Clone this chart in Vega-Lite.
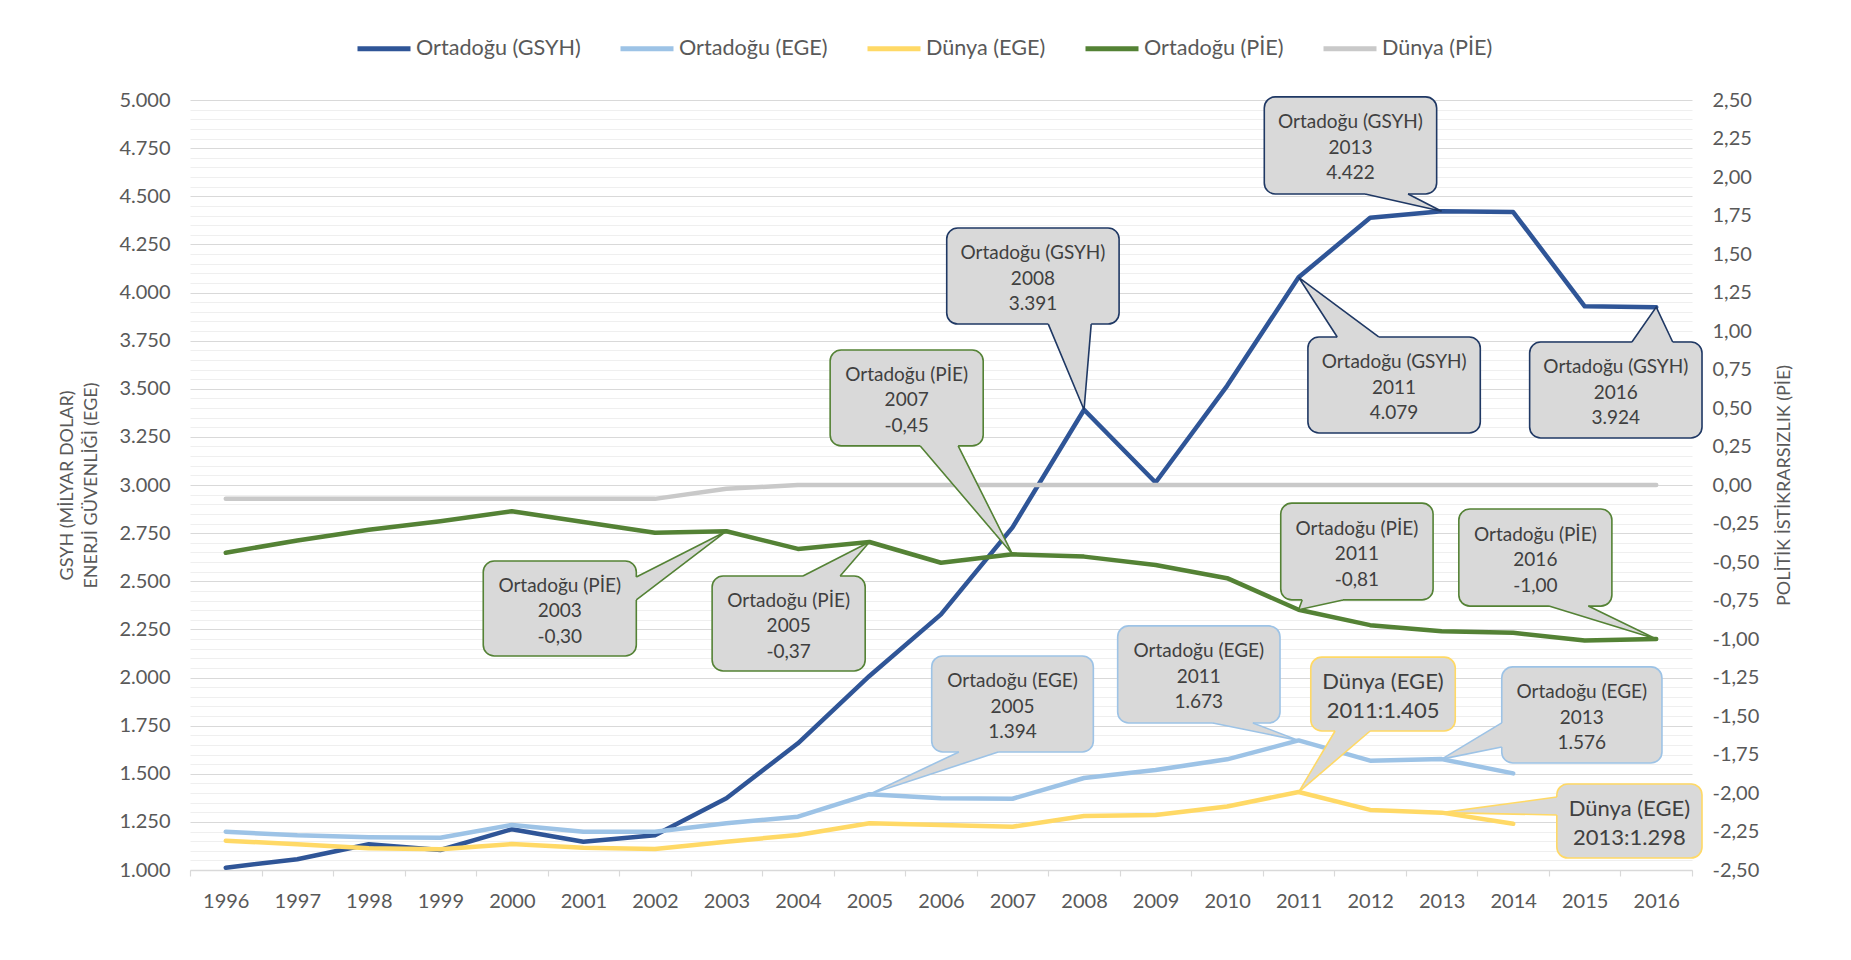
{
  "$schema": "https://vega.github.io/schema/vega-lite/v6.json",
  "width": 1502,
  "height": 770,
  "autosize": {"type": "none"},
  "padding": {"left": 190, "top": 100, "right": 159, "bottom": 90},
  "background": "white",
  "config": {
    "font": "Lato",
    "view": {"stroke": null}
  },
  "datasets": {
    "left": [
      {"year":1996,"series":"Ortadoğu (GSYH)","value":1012},{"year":1997,"series":"Ortadoğu (GSYH)","value":1056},{"year":1998,"series":"Ortadoğu (GSYH)","value":1134},{"year":1999,"series":"Ortadoğu (GSYH)","value":1104},{"year":2000,"series":"Ortadoğu (GSYH)","value":1212},{"year":2001,"series":"Ortadoğu (GSYH)","value":1147},{"year":2002,"series":"Ortadoğu (GSYH)","value":1180},{"year":2003,"series":"Ortadoğu (GSYH)","value":1373},{"year":2004,"series":"Ortadoğu (GSYH)","value":1658},{"year":2005,"series":"Ortadoğu (GSYH)","value":2008},{"year":2006,"series":"Ortadoğu (GSYH)","value":2328},{"year":2007,"series":"Ortadoğu (GSYH)","value":2780},{"year":2008,"series":"Ortadoğu (GSYH)","value":3391},{"year":2009,"series":"Ortadoğu (GSYH)","value":3013},{"year":2010,"series":"Ortadoğu (GSYH)","value":3515},{"year":2011,"series":"Ortadoğu (GSYH)","value":4079},{"year":2012,"series":"Ortadoğu (GSYH)","value":4388},{"year":2013,"series":"Ortadoğu (GSYH)","value":4422},{"year":2014,"series":"Ortadoğu (GSYH)","value":4418},{"year":2015,"series":"Ortadoğu (GSYH)","value":3928},{"year":2016,"series":"Ortadoğu (GSYH)","value":3924},
      {"year":1996,"series":"Ortadoğu (EGE)","value":1199},{"year":1997,"series":"Ortadoğu (EGE)","value":1180},{"year":1998,"series":"Ortadoğu (EGE)","value":1170},{"year":1999,"series":"Ortadoğu (EGE)","value":1168},{"year":2000,"series":"Ortadoğu (EGE)","value":1234},{"year":2001,"series":"Ortadoğu (EGE)","value":1199},{"year":2002,"series":"Ortadoğu (EGE)","value":1199},{"year":2003,"series":"Ortadoğu (EGE)","value":1243},{"year":2004,"series":"Ortadoğu (EGE)","value":1277},{"year":2005,"series":"Ortadoğu (EGE)","value":1394},{"year":2006,"series":"Ortadoğu (EGE)","value":1373},{"year":2007,"series":"Ortadoğu (EGE)","value":1370},{"year":2008,"series":"Ortadoğu (EGE)","value":1478},{"year":2009,"series":"Ortadoğu (EGE)","value":1520},{"year":2010,"series":"Ortadoğu (EGE)","value":1575},{"year":2011,"series":"Ortadoğu (EGE)","value":1673},{"year":2012,"series":"Ortadoğu (EGE)","value":1568},{"year":2013,"series":"Ortadoğu (EGE)","value":1576},{"year":2014,"series":"Ortadoğu (EGE)","value":1502},
      {"year":1996,"series":"Dünya (EGE)","value":1152},{"year":1997,"series":"Dünya (EGE)","value":1134},{"year":1998,"series":"Dünya (EGE)","value":1113},{"year":1999,"series":"Dünya (EGE)","value":1108},{"year":2000,"series":"Dünya (EGE)","value":1135},{"year":2001,"series":"Dünya (EGE)","value":1116},{"year":2002,"series":"Dünya (EGE)","value":1109},{"year":2003,"series":"Dünya (EGE)","value":1147},{"year":2004,"series":"Dünya (EGE)","value":1182},{"year":2005,"series":"Dünya (EGE)","value":1243},{"year":2006,"series":"Dünya (EGE)","value":1234},{"year":2007,"series":"Dünya (EGE)","value":1225},{"year":2008,"series":"Dünya (EGE)","value":1280},{"year":2009,"series":"Dünya (EGE)","value":1286},{"year":2010,"series":"Dünya (EGE)","value":1330},{"year":2011,"series":"Dünya (EGE)","value":1405},{"year":2012,"series":"Dünya (EGE)","value":1312},{"year":2013,"series":"Dünya (EGE)","value":1298},{"year":2014,"series":"Dünya (EGE)","value":1240}
    ],
    "right": [
      {"year":1996,"series":"Ortadoğu (PİE)","value":-0.44},{"year":1997,"series":"Ortadoğu (PİE)","value":-0.36},{"year":1998,"series":"Ortadoğu (PİE)","value":-0.29},{"year":1999,"series":"Ortadoğu (PİE)","value":-0.235},{"year":2000,"series":"Ortadoğu (PİE)","value":-0.17},{"year":2001,"series":"Ortadoğu (PİE)","value":-0.24},{"year":2002,"series":"Ortadoğu (PİE)","value":-0.31},{"year":2003,"series":"Ortadoğu (PİE)","value":-0.30},{"year":2004,"series":"Ortadoğu (PİE)","value":-0.415},{"year":2005,"series":"Ortadoğu (PİE)","value":-0.37},{"year":2006,"series":"Ortadoğu (PİE)","value":-0.505},{"year":2007,"series":"Ortadoğu (PİE)","value":-0.45},{"year":2008,"series":"Ortadoğu (PİE)","value":-0.465},{"year":2009,"series":"Ortadoğu (PİE)","value":-0.52},{"year":2010,"series":"Ortadoğu (PİE)","value":-0.605},{"year":2011,"series":"Ortadoğu (PİE)","value":-0.81},{"year":2012,"series":"Ortadoğu (PİE)","value":-0.91},{"year":2013,"series":"Ortadoğu (PİE)","value":-0.95},{"year":2014,"series":"Ortadoğu (PİE)","value":-0.96},{"year":2015,"series":"Ortadoğu (PİE)","value":-1.01},{"year":2016,"series":"Ortadoğu (PİE)","value":-1.00},
      {"year":1996,"series":"Dünya (PİE)","value":-0.09},{"year":1997,"series":"Dünya (PİE)","value":-0.09},{"year":1998,"series":"Dünya (PİE)","value":-0.09},{"year":1999,"series":"Dünya (PİE)","value":-0.09},{"year":2000,"series":"Dünya (PİE)","value":-0.09},{"year":2001,"series":"Dünya (PİE)","value":-0.09},{"year":2002,"series":"Dünya (PİE)","value":-0.09},{"year":2003,"series":"Dünya (PİE)","value":-0.025},{"year":2004,"series":"Dünya (PİE)","value":0},{"year":2005,"series":"Dünya (PİE)","value":0},{"year":2006,"series":"Dünya (PİE)","value":0},{"year":2007,"series":"Dünya (PİE)","value":0},{"year":2008,"series":"Dünya (PİE)","value":0},{"year":2009,"series":"Dünya (PİE)","value":0},{"year":2010,"series":"Dünya (PİE)","value":0},{"year":2011,"series":"Dünya (PİE)","value":0},{"year":2012,"series":"Dünya (PİE)","value":0},{"year":2013,"series":"Dünya (PİE)","value":0},{"year":2014,"series":"Dünya (PİE)","value":0},{"year":2015,"series":"Dünya (PİE)","value":0},{"year":2016,"series":"Dünya (PİE)","value":0}
    ],
    "callouts": [
      {"id":"c1","series":"Ortadoğu (PİE)","x1":1999.60,"x2":2001.74,"y1":2605,"y2":2112,"tx":2000.67,"ty":2358,"label":"Ortadoğu (PİE)\n2003\n-0,30"},
      {"id":"c2","series":"Ortadoğu (PİE)","x1":2002.80,"x2":2004.94,"y1":2527,"y2":2034,"tx":2003.87,"ty":2280,"label":"Ortadoğu (PİE)\n2005\n-0,37"},
      {"id":"c3","series":"Ortadoğu (PİE)","x1":2004.45,"x2":2006.59,"y1":3701,"y2":3203,"tx":2005.52,"ty":3452,"label":"Ortadoğu (PİE)\n2007\n-0,45"},
      {"id":"c4","series":"Ortadoğu (GSYH)","x1":2006.08,"x2":2008.49,"y1":4335,"y2":3836,"tx":2007.285,"ty":4085,"label":"Ortadoğu (GSYH)\n2008\n3.391"},
      {"id":"c5","series":"Ortadoğu (GSYH)","x1":2010.52,"x2":2012.93,"y1":5016,"y2":4512,"tx":2011.725,"ty":4764,"label":"Ortadoğu (GSYH)\n2013\n4.422"},
      {"id":"c6","series":"Ortadoğu (GSYH)","x1":2011.13,"x2":2013.54,"y1":3769,"y2":3270,"tx":2012.335,"ty":3519,"label":"Ortadoğu (GSYH)\n2011\n4.079"},
      {"id":"c7","series":"Ortadoğu (GSYH)","x1":2014.23,"x2":2016.64,"y1":3743,"y2":3244,"tx":2015.435,"ty":3493,"label":"Ortadoğu (GSYH)\n2016\n3.924"},
      {"id":"c8","series":"Ortadoğu (PİE)","x1":2010.75,"x2":2012.88,"y1":2906,"y2":2403,"tx":2011.815,"ty":2654,"label":"Ortadoğu (PİE)\n2011\n-0,81"},
      {"id":"c9","series":"Ortadoğu (PİE)","x1":2013.24,"x2":2015.38,"y1":2875,"y2":2371,"tx":2014.31,"ty":2623,"label":"Ortadoğu (PİE)\n2016\n-1,00"},
      {"id":"c10","series":"Ortadoğu (EGE)","x1":2005.87,"x2":2008.13,"y1":2112,"y2":1613,"tx":2007.0,"ty":1862,"label":"Ortadoğu (EGE)\n2005\n1.394"},
      {"id":"c11","series":"Ortadoğu (EGE)","x1":2008.47,"x2":2010.74,"y1":2268,"y2":1764,"tx":2009.605,"ty":2016,"label":"Ortadoğu (EGE)\n2011\n1.673"},
      {"id":"c12","series":"Dünya (EGE)","x1":2011.17,"x2":2013.19,"y1":2106,"y2":1722,"tx":2012.18,"ty":1914,"label":"Dünya (EGE)\n2011:1.405"},
      {"id":"c13","series":"Ortadoğu (EGE)","x1":2013.84,"x2":2016.08,"y1":2055,"y2":1556,"tx":2014.96,"ty":1805,"label":"Ortadoğu (EGE)\n2013\n1.576"},
      {"id":"c14","series":"Dünya (EGE)","x1":2014.61,"x2":2016.64,"y1":1447,"y2":1062,"tx":2015.625,"ty":1254,"label":"Dünya (EGE)\n2013:1.298"}
    ],
    "wedges": [
      {"id":"c1","series":"Ortadoğu (PİE)","part":"fill","ord":1,"x":2001.70,"y":2522},{"id":"c1","series":"Ortadoğu (PİE)","part":"fill","ord":2,"x":2001.74,"y":2522},{"id":"c1","series":"Ortadoğu (PİE)","part":"fill","ord":3,"x":2003,"y":2760},{"id":"c1","series":"Ortadoğu (PİE)","part":"fill","ord":4,"x":2001.74,"y":2403},{"id":"c1","series":"Ortadoğu (PİE)","part":"fill","ord":5,"x":2001.70,"y":2403},
      {"id":"c1","series":"Ortadoğu (PİE)","part":"edge","ord":1,"x":2001.74,"y":2522},{"id":"c1","series":"Ortadoğu (PİE)","part":"edge","ord":2,"x":2003,"y":2760},{"id":"c1","series":"Ortadoğu (PİE)","part":"edge","ord":3,"x":2001.74,"y":2403},
      {"id":"c2","series":"Ortadoğu (PİE)","part":"fill","ord":1,"x":2004.07,"y":2511},{"id":"c2","series":"Ortadoğu (PİE)","part":"fill","ord":2,"x":2004.07,"y":2527},{"id":"c2","series":"Ortadoğu (PİE)","part":"fill","ord":3,"x":2005,"y":2704},{"id":"c2","series":"Ortadoğu (PİE)","part":"fill","ord":4,"x":2004.59,"y":2527},{"id":"c2","series":"Ortadoğu (PİE)","part":"fill","ord":5,"x":2004.59,"y":2511},
      {"id":"c2","series":"Ortadoğu (PİE)","part":"edge","ord":1,"x":2004.07,"y":2527},{"id":"c2","series":"Ortadoğu (PİE)","part":"edge","ord":2,"x":2005,"y":2704},{"id":"c2","series":"Ortadoğu (PİE)","part":"edge","ord":3,"x":2004.59,"y":2527},
      {"id":"c3","series":"Ortadoğu (PİE)","part":"fill","ord":1,"x":2005.71,"y":3219},{"id":"c3","series":"Ortadoğu (PİE)","part":"fill","ord":2,"x":2005.71,"y":3203},{"id":"c3","series":"Ortadoğu (PİE)","part":"fill","ord":3,"x":2007,"y":2640},{"id":"c3","series":"Ortadoğu (PİE)","part":"fill","ord":4,"x":2006.24,"y":3203},{"id":"c3","series":"Ortadoğu (PİE)","part":"fill","ord":5,"x":2006.24,"y":3219},
      {"id":"c3","series":"Ortadoğu (PİE)","part":"edge","ord":1,"x":2005.71,"y":3203},{"id":"c3","series":"Ortadoğu (PİE)","part":"edge","ord":2,"x":2007,"y":2640},{"id":"c3","series":"Ortadoğu (PİE)","part":"edge","ord":3,"x":2006.24,"y":3203},
      {"id":"c4","series":"Ortadoğu (GSYH)","part":"fill","ord":1,"x":2007.50,"y":3852},{"id":"c4","series":"Ortadoğu (GSYH)","part":"fill","ord":2,"x":2007.50,"y":3836},{"id":"c4","series":"Ortadoğu (GSYH)","part":"fill","ord":3,"x":2008,"y":3391},{"id":"c4","series":"Ortadoğu (GSYH)","part":"fill","ord":4,"x":2008.10,"y":3836},{"id":"c4","series":"Ortadoğu (GSYH)","part":"fill","ord":5,"x":2008.10,"y":3852},
      {"id":"c4","series":"Ortadoğu (GSYH)","part":"edge","ord":1,"x":2007.50,"y":3836},{"id":"c4","series":"Ortadoğu (GSYH)","part":"edge","ord":2,"x":2008,"y":3391},{"id":"c4","series":"Ortadoğu (GSYH)","part":"edge","ord":3,"x":2008.10,"y":3836},
      {"id":"c5","series":"Ortadoğu (GSYH)","part":"fill","ord":1,"x":2011.93,"y":4528},{"id":"c5","series":"Ortadoğu (GSYH)","part":"fill","ord":2,"x":2011.93,"y":4512},{"id":"c5","series":"Ortadoğu (GSYH)","part":"fill","ord":3,"x":2013,"y":4422},{"id":"c5","series":"Ortadoğu (GSYH)","part":"fill","ord":4,"x":2012.53,"y":4512},{"id":"c5","series":"Ortadoğu (GSYH)","part":"fill","ord":5,"x":2012.53,"y":4528},
      {"id":"c5","series":"Ortadoğu (GSYH)","part":"edge","ord":1,"x":2011.93,"y":4512},{"id":"c5","series":"Ortadoğu (GSYH)","part":"edge","ord":2,"x":2013,"y":4422},{"id":"c5","series":"Ortadoğu (GSYH)","part":"edge","ord":3,"x":2012.53,"y":4512},
      {"id":"c6","series":"Ortadoğu (GSYH)","part":"fill","ord":1,"x":2011.54,"y":3753},{"id":"c6","series":"Ortadoğu (GSYH)","part":"fill","ord":2,"x":2011.54,"y":3769},{"id":"c6","series":"Ortadoğu (GSYH)","part":"fill","ord":3,"x":2011,"y":4079},{"id":"c6","series":"Ortadoğu (GSYH)","part":"fill","ord":4,"x":2012.12,"y":3769},{"id":"c6","series":"Ortadoğu (GSYH)","part":"fill","ord":5,"x":2012.12,"y":3753},
      {"id":"c6","series":"Ortadoğu (GSYH)","part":"edge","ord":1,"x":2011.54,"y":3769},{"id":"c6","series":"Ortadoğu (GSYH)","part":"edge","ord":2,"x":2011,"y":4079},{"id":"c6","series":"Ortadoğu (GSYH)","part":"edge","ord":3,"x":2012.12,"y":3769},
      {"id":"c7","series":"Ortadoğu (GSYH)","part":"fill","ord":1,"x":2015.66,"y":3727},{"id":"c7","series":"Ortadoğu (GSYH)","part":"fill","ord":2,"x":2015.66,"y":3743},{"id":"c7","series":"Ortadoğu (GSYH)","part":"fill","ord":3,"x":2016,"y":3924},{"id":"c7","series":"Ortadoğu (GSYH)","part":"fill","ord":4,"x":2016.23,"y":3743},{"id":"c7","series":"Ortadoğu (GSYH)","part":"fill","ord":5,"x":2016.23,"y":3727},
      {"id":"c7","series":"Ortadoğu (GSYH)","part":"edge","ord":1,"x":2015.66,"y":3743},{"id":"c7","series":"Ortadoğu (GSYH)","part":"edge","ord":2,"x":2016,"y":3924},{"id":"c7","series":"Ortadoğu (GSYH)","part":"edge","ord":3,"x":2016.23,"y":3743},
      {"id":"c8","series":"Ortadoğu (PİE)","part":"fill","ord":1,"x":2011.05,"y":2419},{"id":"c8","series":"Ortadoğu (PİE)","part":"fill","ord":2,"x":2011.05,"y":2403},{"id":"c8","series":"Ortadoğu (PİE)","part":"fill","ord":3,"x":2011,"y":2352},{"id":"c8","series":"Ortadoğu (PİE)","part":"fill","ord":4,"x":2011.62,"y":2403},{"id":"c8","series":"Ortadoğu (PİE)","part":"fill","ord":5,"x":2011.62,"y":2419},
      {"id":"c8","series":"Ortadoğu (PİE)","part":"edge","ord":1,"x":2011.05,"y":2403},{"id":"c8","series":"Ortadoğu (PİE)","part":"edge","ord":2,"x":2011,"y":2352},{"id":"c8","series":"Ortadoğu (PİE)","part":"edge","ord":3,"x":2011.62,"y":2403},
      {"id":"c9","series":"Ortadoğu (PİE)","part":"fill","ord":1,"x":2014.50,"y":2387},{"id":"c9","series":"Ortadoğu (PİE)","part":"fill","ord":2,"x":2014.50,"y":2371},{"id":"c9","series":"Ortadoğu (PİE)","part":"fill","ord":3,"x":2016,"y":2200},{"id":"c9","series":"Ortadoğu (PİE)","part":"fill","ord":4,"x":2015.05,"y":2371},{"id":"c9","series":"Ortadoğu (PİE)","part":"fill","ord":5,"x":2015.05,"y":2387},
      {"id":"c9","series":"Ortadoğu (PİE)","part":"edge","ord":1,"x":2014.50,"y":2371},{"id":"c9","series":"Ortadoğu (PİE)","part":"edge","ord":2,"x":2016,"y":2200},{"id":"c9","series":"Ortadoğu (PİE)","part":"edge","ord":3,"x":2015.05,"y":2371},
      {"id":"c10","series":"Ortadoğu (EGE)","part":"fill","ord":1,"x":2006.25,"y":1629},{"id":"c10","series":"Ortadoğu (EGE)","part":"fill","ord":2,"x":2006.25,"y":1613},{"id":"c10","series":"Ortadoğu (EGE)","part":"fill","ord":3,"x":2005,"y":1394},{"id":"c10","series":"Ortadoğu (EGE)","part":"fill","ord":4,"x":2006.80,"y":1613},{"id":"c10","series":"Ortadoğu (EGE)","part":"fill","ord":5,"x":2006.80,"y":1629},
      {"id":"c10","series":"Ortadoğu (EGE)","part":"edge","ord":1,"x":2006.25,"y":1613},{"id":"c10","series":"Ortadoğu (EGE)","part":"edge","ord":2,"x":2005,"y":1394},{"id":"c10","series":"Ortadoğu (EGE)","part":"edge","ord":3,"x":2006.80,"y":1613},
      {"id":"c11","series":"Ortadoğu (EGE)","part":"fill","ord":1,"x":2009.80,"y":1780},{"id":"c11","series":"Ortadoğu (EGE)","part":"fill","ord":2,"x":2009.80,"y":1764},{"id":"c11","series":"Ortadoğu (EGE)","part":"fill","ord":3,"x":2011,"y":1673},{"id":"c11","series":"Ortadoğu (EGE)","part":"fill","ord":4,"x":2010.36,"y":1764},{"id":"c11","series":"Ortadoğu (EGE)","part":"fill","ord":5,"x":2010.36,"y":1780},
      {"id":"c11","series":"Ortadoğu (EGE)","part":"edge","ord":1,"x":2009.80,"y":1764},{"id":"c11","series":"Ortadoğu (EGE)","part":"edge","ord":2,"x":2011,"y":1673},{"id":"c11","series":"Ortadoğu (EGE)","part":"edge","ord":3,"x":2010.36,"y":1764},
      {"id":"c12","series":"Dünya (EGE)","part":"fill","ord":1,"x":2011.51,"y":1738},{"id":"c12","series":"Dünya (EGE)","part":"fill","ord":2,"x":2011.51,"y":1722},{"id":"c12","series":"Dünya (EGE)","part":"fill","ord":3,"x":2011,"y":1405},{"id":"c12","series":"Dünya (EGE)","part":"fill","ord":4,"x":2012.00,"y":1722},{"id":"c12","series":"Dünya (EGE)","part":"fill","ord":5,"x":2012.00,"y":1738},
      {"id":"c12","series":"Dünya (EGE)","part":"edge","ord":1,"x":2011.51,"y":1722},{"id":"c12","series":"Dünya (EGE)","part":"edge","ord":2,"x":2011,"y":1405},{"id":"c12","series":"Dünya (EGE)","part":"edge","ord":3,"x":2012.00,"y":1722},
      {"id":"c13","series":"Ortadoğu (EGE)","part":"fill","ord":1,"x":2013.88,"y":1764},{"id":"c13","series":"Ortadoğu (EGE)","part":"fill","ord":2,"x":2013.84,"y":1764},{"id":"c13","series":"Ortadoğu (EGE)","part":"fill","ord":3,"x":2013,"y":1576},{"id":"c13","series":"Ortadoğu (EGE)","part":"fill","ord":4,"x":2013.84,"y":1639},{"id":"c13","series":"Ortadoğu (EGE)","part":"fill","ord":5,"x":2013.88,"y":1639},
      {"id":"c13","series":"Ortadoğu (EGE)","part":"edge","ord":1,"x":2013.84,"y":1764},{"id":"c13","series":"Ortadoğu (EGE)","part":"edge","ord":2,"x":2013,"y":1576},{"id":"c13","series":"Ortadoğu (EGE)","part":"edge","ord":3,"x":2013.84,"y":1639},
      {"id":"c14","series":"Dünya (EGE)","part":"fill","ord":1,"x":2014.65,"y":1379},{"id":"c14","series":"Dünya (EGE)","part":"fill","ord":2,"x":2014.61,"y":1379},{"id":"c14","series":"Dünya (EGE)","part":"fill","ord":3,"x":2013,"y":1298},{"id":"c14","series":"Dünya (EGE)","part":"fill","ord":4,"x":2014.61,"y":1286},{"id":"c14","series":"Dünya (EGE)","part":"fill","ord":5,"x":2014.65,"y":1286},
      {"id":"c14","series":"Dünya (EGE)","part":"edge","ord":1,"x":2014.61,"y":1379},{"id":"c14","series":"Dünya (EGE)","part":"edge","ord":2,"x":2013,"y":1298},{"id":"c14","series":"Dünya (EGE)","part":"edge","ord":3,"x":2014.61,"y":1286}
    ]
  },
  "layer": [
    {
      "data": {"name": "left"},
      "mark": {"type": "line", "strokeWidth": 4.5, "strokeJoin": "round", "strokeCap": "round"},
      "encoding": {
        "x": {
          "field": "year", "type": "quantitative",
          "scale": {"domain": [1995.5, 2016.5], "nice": false, "zero": false},
          "axis": {
            "values": [1995.5,1996.5,1997.5,1998.5,1999.5,2000.5,2001.5,2002.5,2003.5,2004.5,2005.5,2006.5,2007.5,2008.5,2009.5,2010.5,2011.5,2012.5,2013.5,2014.5,2015.5,2016.5],
            "labelExpr": "datum.value > 2016 ? '' : format(datum.value + 0.5, 'd')",
            "labelOffset": 35.76,
            "labelFlush": false, "labelOverlap": false, "labelBound": false,
            "labelFont": "Lato", "labelFontSize": 20, "labelColor": "#595959", "labelPadding": 15,
            "tickColor": "#D9D9D9", "tickSize": 6, "tickWidth": 1.2,
            "domainColor": "#D9D9D9", "domainWidth": 1.3,
            "grid": false, "title": null
          }
        },
        "y": {
          "field": "value", "type": "quantitative",
          "scale": {"domain": [1000, 5000], "nice": false, "zero": false},
          "axis": {
            "orient": "left",
            "values": [1000,1050,1100,1150,1200,1250,1300,1350,1400,1450,1500,1550,1600,1650,1700,1750,1800,1850,1900,1950,2000,2050,2100,2150,2200,2250,2300,2350,2400,2450,2500,2550,2600,2650,2700,2750,2800,2850,2900,2950,3000,3050,3100,3150,3200,3250,3300,3350,3400,3450,3500,3550,3600,3650,3700,3750,3800,3850,3900,3950,4000,4050,4100,4150,4200,4250,4300,4350,4400,4450,4500,4550,4600,4650,4700,4750,4800,4850,4900,4950,5000],
            "labelExpr": "datum.value % 250 == 0 ? replace(format(datum.value, ',.0f'), ',', '.') : ''",
            "labelOverlap": false, "labelBound": false, "labelFlush": false,
            "grid": true,
            "gridColor": {"condition": {"test": "datum.value % 250 == 0", "value": "#D9D9D9"}, "value": "#EFEFEF"},
            "gridWidth": 1.2,
            "domain": false, "ticks": false,
            "labelFont": "Lato", "labelFontSize": 20, "labelColor": "#595959", "labelPadding": 20,
            "title": ["GSYH (MİLYAR DOLAR)", "ENERJİ GÜVENLİĞİ (EGE)"],
            "titleFont": "Lato", "titleFontSize": 18, "titleFontWeight": "normal", "titleColor": "#595959",
            "titleLineHeight": 24, "titlePadding": 18
          }
        },
        "color": {
          "field": "series", "type": "nominal",
          "scale": {
            "domain": ["Ortadoğu (GSYH)", "Ortadoğu (EGE)", "Dünya (EGE)", "Ortadoğu (PİE)", "Dünya (PİE)"],
            "range": ["#2F5597", "#9DC3E6", "#FFD966", "#548235", "#C9C9C9"]
          },
          "legend": {
            "orient": "none", "legendX": 165, "legendY": -80.5, "direction": "horizontal",
            "title": null, "symbolType": "stroke", "symbolSize": 2809, "symbolStrokeWidth": 5,
            "labelFont": "Lato", "labelFontSize": 21.6, "labelColor": "#595959", "labelOffset": 3, "labelLimit": 0,
            "columnPadding": 29, "padding": 0
          }
        }
      }
    },
    {
      "data": {"name": "right"},
      "mark": {"type": "line", "strokeWidth": 4.5, "strokeJoin": "round", "strokeCap": "round"},
      "encoding": {
        "x": {"field": "year", "type": "quantitative", "scale": {"domain": [1995.5, 2016.5], "nice": false, "zero": false}},
        "y": {
          "field": "value", "type": "quantitative",
          "scale": {"domain": [-2.5, 2.5], "nice": false, "zero": false},
          "axis": {
            "orient": "right",
            "values": [-2.5,-2.25,-2,-1.75,-1.5,-1.25,-1,-0.75,-0.5,-0.25,0,0.25,0.5,0.75,1,1.25,1.5,1.75,2,2.25,2.5],
            "labelExpr": "replace(replace(format(datum.value, '.2f'), '.', ','), '\u2212', '-')",
            "labelOverlap": false, "labelBound": false, "labelFlush": false,
            "grid": false, "domain": false, "ticks": false,
            "labelFont": "Lato", "labelFontSize": 20, "labelColor": "#595959", "labelPadding": 20,
            "title": "POLİTİK İSTİKRARSIZLIK (PİE)",
            "titleFont": "Lato", "titleFontSize": 18, "titleFontWeight": "normal", "titleColor": "#595959",
            "titleAngle": 270, "titlePadding": 35
          }
        },
        "color": {
          "field": "series", "type": "nominal",
          "scale": {
            "domain": ["Ortadoğu (GSYH)", "Ortadoğu (EGE)", "Dünya (EGE)", "Ortadoğu (PİE)", "Dünya (PİE)"],
            "range": ["#2F5597", "#9DC3E6", "#FFD966", "#548235", "#C9C9C9"]
          },
          "legend": {
            "orient": "none", "legendX": 165, "legendY": -80.5, "direction": "horizontal",
            "title": null, "symbolType": "stroke", "symbolSize": 2809, "symbolStrokeWidth": 5,
            "labelFont": "Lato", "labelFontSize": 21.6, "labelColor": "#595959", "labelOffset": 3, "labelLimit": 0,
            "columnPadding": 29, "padding": 0
          }
        }
      }
    },
    {
      "layer": [
        {
          "data": {"name": "callouts"},
          "mark": {"type": "rect", "fill": "#D9D9D9", "cornerRadius": 11, "strokeWidth": 1.6},
          "encoding": {
            "x": {"field": "x1", "type": "quantitative", "scale": {"domain": [1995.5, 2016.5], "nice": false, "zero": false}},
            "x2": {"field": "x2"},
            "y": {"field": "y1", "type": "quantitative", "scale": {"domain": [1000, 5000], "nice": false, "zero": false}, "axis": null},
            "y2": {"field": "y2"},
            "stroke": {
              "field": "series", "type": "nominal",
              "scale": {"domain": ["Ortadoğu (GSYH)", "Ortadoğu (EGE)", "Dünya (EGE)", "Ortadoğu (PİE)"], "range": ["#1F3864", "#9DC3E6", "#FFD966", "#548235"]},
              "legend": null
            }
          }
        },
        {
          "data": {"name": "wedges"},
          "transform": [{"filter": "datum.part == 'fill'"}],
          "mark": {"type": "line", "fill": "#D9D9D9", "strokeWidth": 0, "strokeOpacity": 0, "interpolate": "linear"},
          "encoding": {
            "x": {"field": "x", "type": "quantitative", "scale": {"domain": [1995.5, 2016.5], "nice": false, "zero": false}},
            "y": {"field": "y", "type": "quantitative", "scale": {"domain": [1000, 5000], "nice": false, "zero": false}, "axis": null},
            "order": {"field": "ord", "type": "quantitative"},
            "detail": {"field": "id", "type": "nominal"}
          }
        },
        {
          "data": {"name": "wedges"},
          "transform": [{"filter": "datum.part == 'edge'"}],
          "mark": {"type": "line", "strokeWidth": 1.6, "strokeJoin": "miter", "interpolate": "linear"},
          "encoding": {
            "x": {"field": "x", "type": "quantitative", "scale": {"domain": [1995.5, 2016.5], "nice": false, "zero": false}},
            "y": {"field": "y", "type": "quantitative", "scale": {"domain": [1000, 5000], "nice": false, "zero": false}, "axis": null},
            "order": {"field": "ord", "type": "quantitative"},
            "detail": {"field": "id", "type": "nominal"},
            "stroke": {
              "field": "series", "type": "nominal",
              "scale": {"domain": ["Ortadoğu (GSYH)", "Ortadoğu (EGE)", "Dünya (EGE)", "Ortadoğu (PİE)"], "range": ["#1F3864", "#9DC3E6", "#FFD966", "#548235"]},
              "legend": null
            }
          }
        },
        {
          "data": {"name": "callouts"},
          "transform": [{"filter": "datum.series != 'Dünya (EGE)'"}],
          "mark": {"type": "text", "font": "Lato", "fontSize": 19, "color": "#404040", "lineBreak": "\n", "lineHeight": 25.5, "baseline": "middle", "align": "center", "dy": -23},
          "encoding": {
            "x": {"field": "tx", "type": "quantitative", "scale": {"domain": [1995.5, 2016.5], "nice": false, "zero": false}},
            "y": {"field": "ty", "type": "quantitative", "scale": {"domain": [1000, 5000], "nice": false, "zero": false}, "axis": null},
            "text": {"field": "label", "type": "nominal"}
          }
        },
        {
          "data": {"name": "callouts"},
          "transform": [{"filter": "datum.series == 'Dünya (EGE)'"}],
          "mark": {"type": "text", "font": "Lato", "fontSize": 22, "color": "#404040", "lineBreak": "\n", "lineHeight": 29, "baseline": "middle", "align": "center", "dy": -12.5},
          "encoding": {
            "x": {"field": "tx", "type": "quantitative", "scale": {"domain": [1995.5, 2016.5], "nice": false, "zero": false}},
            "y": {"field": "ty", "type": "quantitative", "scale": {"domain": [1000, 5000], "nice": false, "zero": false}, "axis": null},
            "text": {"field": "label", "type": "nominal"}
          }
        }
      ]
    }
  ],
  "resolve": {"scale": {"y": "independent"}}
}
